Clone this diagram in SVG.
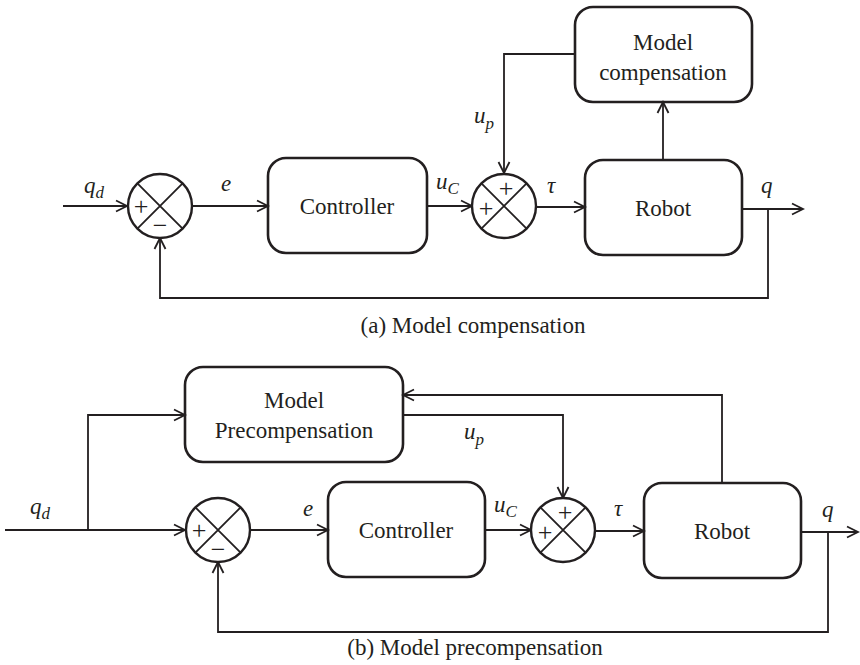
<svg xmlns="http://www.w3.org/2000/svg" width="860" height="665" viewBox="0 0 860 665">
<defs>
<marker id="arr" markerUnits="userSpaceOnUse" markerWidth="14" markerHeight="14" viewBox="0 0 14 14" refX="12" refY="7" orient="auto">
<path d="M1,1.5 L12,7 L1,12.5" fill="none" stroke="#231f20" stroke-width="1.8"/>
</marker>
</defs>
<style>
.box{fill:none;stroke:#231f20;stroke-width:2.6}
.sum{fill:#fff;stroke:#231f20;stroke-width:2.4}
.x{stroke:#231f20;stroke-width:1.8}
.ar{fill:none;stroke:#231f20;stroke-width:1.8;marker-end:url(#arr)}
text{font-family:'Liberation Serif','DejaVu Serif','Times New Roman',serif;fill:#231f20}
.t{font-size:23px;text-anchor:middle}
.i{font-style:italic;font-size:23px}
.s{font-size:17px}
.sg{font-size:26px;text-anchor:middle}
</style>

<g id="connectors">
<path class="ar" d="M63,206 H127"/>
<path class="ar" d="M192,206 H268"/>
<path class="ar" d="M427,206 H472"/>
<path class="ar" d="M536,207 H585"/>
<path class="ar" d="M742,209 H803"/>
<path class="ar" d="M768,209 V298 H160 V238"/>
<path class="ar" d="M663,160 V102"/>
<path class="ar" d="M575,54 H504 V173"/>
<path class="ar" d="M5,530 H185"/>
<path class="ar" d="M88,530 V415 H185"/>
<path class="ar" d="M250,530 H328"/>
<path class="ar" d="M485,530 H531"/>
<path class="ar" d="M595,531 H644"/>
<path class="ar" d="M801,532 H858"/>
<path class="ar" d="M828,532 V632 H218 V562"/>
<path class="ar" d="M403,415 H563 V498"/>
<path class="ar" d="M722,483 V395 H403"/>
</g>

<g id="sum1">
<circle class="sum" cx="160" cy="206" r="32"/>
<path class="x" d="M137.4,183.4 L182.6,228.6 M182.6,183.4 L137.4,228.6"/>
<text class="sg" x="141" y="215">+</text>
<text class="sg" x="160" y="234">−</text>
</g>
<g id="controller1">
<rect class="box" x="268" y="158" width="159" height="95" rx="18"/>
<text class="t" x="347" y="214">Controller</text>
</g>
<g id="sum2">
<circle class="sum" cx="504" cy="206" r="32"/>
<path class="x" d="M481.4,183.4 L526.6,228.6 M526.6,183.4 L481.4,228.6"/>
<text class="sg" x="506" y="197">+</text>
<text class="sg" x="486" y="217">+</text>
</g>
<g id="robot1">
<rect class="box" x="585" y="160" width="157" height="95" rx="18"/>
<text class="t" x="663" y="216">Robot</text>
</g>
<g id="modelcomp">
<rect class="box" x="575" y="7" width="177" height="95" rx="18"/>
<text class="t" x="663" y="50">Model</text>
<text class="t" x="663" y="80">compensation</text>
</g>
<g id="labels-a">
<text class="i" x="84" y="193">q<tspan class="s" dy="5">d</tspan></text>
<text class="i" x="221" y="191">e</text>
<text class="i" x="436" y="189">u<tspan class="s" dy="5">C</tspan></text>
<text class="i" x="474" y="123">u<tspan class="s" dy="6">p</tspan></text>
<text class="i" x="547" y="193">τ</text>
<text class="i" x="761" y="193">q</text>
<text class="t" x="473" y="333">(a) Model compensation</text>
</g>

<g id="modelprecomp">
<rect class="box" x="185" y="367" width="218" height="95" rx="18"/>
<text class="t" x="294" y="408">Model</text>
<text class="t" x="294" y="438">Precompensation</text>
</g>
<g id="sum3">
<circle class="sum" cx="218" cy="530" r="32"/>
<path class="x" d="M195.4,507.4 L240.6,552.6 M240.6,507.4 L195.4,552.6"/>
<text class="sg" x="199" y="539">+</text>
<text class="sg" x="218" y="558">−</text>
</g>
<g id="controller2">
<rect class="box" x="328" y="482" width="157" height="95" rx="18"/>
<text class="t" x="406" y="538">Controller</text>
</g>
<g id="sum4">
<circle class="sum" cx="563" cy="530" r="32"/>
<path class="x" d="M540.4,507.4 L585.6,552.6 M585.6,507.4 L540.4,552.6"/>
<text class="sg" x="565" y="521">+</text>
<text class="sg" x="545" y="541">+</text>
</g>
<g id="robot2">
<rect class="box" x="644" y="483" width="157" height="95" rx="18"/>
<text class="t" x="722" y="539">Robot</text>
</g>
<g id="labels-b">
<text class="i" x="30" y="514">q<tspan class="s" dy="5">d</tspan></text>
<text class="i" x="303" y="516">e</text>
<text class="i" x="494" y="512">u<tspan class="s" dy="5">C</tspan></text>
<text class="i" x="464" y="439">u<tspan class="s" dy="6">p</tspan></text>
<text class="i" x="614" y="516">τ</text>
<text class="i" x="822" y="517">q</text>
<text class="t" x="475" y="655">(b) Model precompensation</text>
</g>
</svg>
